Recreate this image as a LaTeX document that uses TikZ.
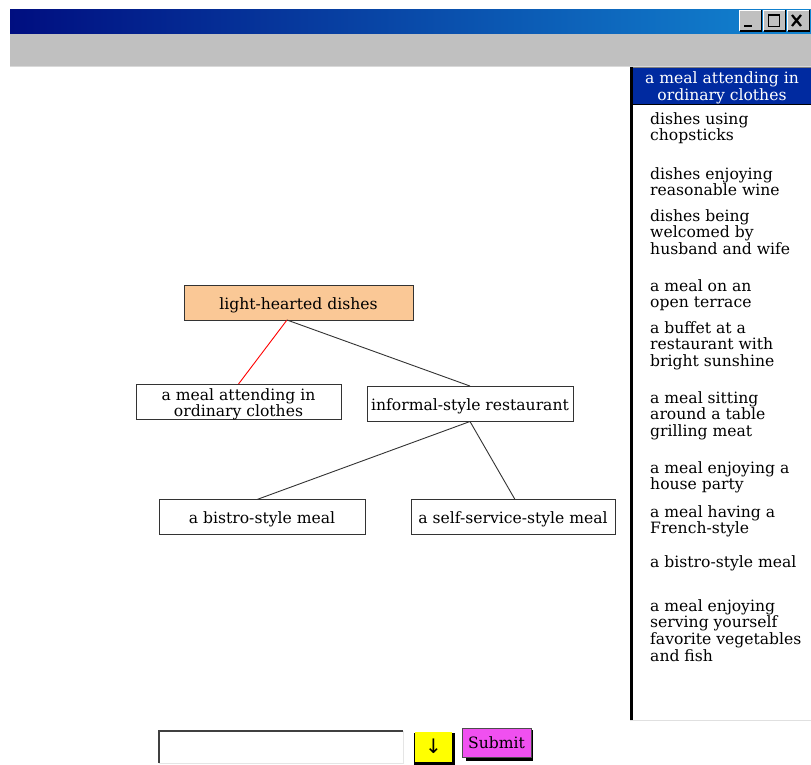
\documentclass[tikz,border=0pt]{standalone}
\usepackage{fontspec}
\setmainfont{DejaVu Serif}
\newfontfamily\arrowfont{DejaVu Sans}
\definecolor{peach}{RGB}{250,200,150}
\definecolor{titleL}{RGB}{0,14,128}
\definecolor{titleR}{RGB}{18,134,210}
\definecolor{winGray}{RGB}{192,192,192}
\definecolor{selBlue}{RGB}{0,42,160}
\definecolor{magentaBtn}{RGB}{240,80,240}
\definecolor{yellowBtn}{RGB}{255,255,0}
\tikzset{
  treebox/.style={draw=black!80, line width=0.9pt, minimum height=35pt, inner sep=1pt},
  treetext/.style={align=center, inner sep=0pt, yshift=-2.5pt, font=\fontsize{15.6}{16.5}\selectfont},
  listitem/.style={anchor=north west, align=left, inner sep=0pt, font=\fontsize{15.6}{16.8}\selectfont},
  link/.style={draw=black!80, line width=0.9pt},
  redlink/.style={draw=red, line width=0.9pt},
}
\begin{document}
\begin{tikzpicture}[x=1pt,y=-1pt]
\useasboundingbox (0,0) rectangle (811,765);
\fill[white] (0,0) rectangle (811,765);
% title bar
\shade[left color=titleL, right color=titleR] (10,10) rectangle (811,34);
\fill[winGray] (10,34) rectangle (811,66);
\draw[black!15, line width=1pt] (10,66.5) -- (811,66.5);
% window buttons
\foreach \bx in {739,763,787}{
  \fill[winGray] (\bx,10) rectangle (\bx+23,31);
  \draw[white, line width=1pt] (\bx+0.5,31) -- (\bx+0.5,10.5) -- (\bx+23,10.5);
  \draw[black, line width=1.2pt] (\bx+0.6,31) -- (\bx+22.4,31) -- (\bx+22.4,10);
}
\fill[black] (744,25) rectangle (752,27.5);
\draw[black, line width=1.2pt] (768.5,14.5) rectangle (779.5,26.5);
\fill[black] (768.5,14) rectangle (779.5,16.5);
\draw[black, line width=2.2pt] (792,15) -- (801,26) (801,15) -- (792,26);
% list box
\fill[selBlue] (632,68) rectangle (811,104);
\draw[black, line width=1pt] (632,104.5) -- (811,104.5);
\draw[black!50, line width=1pt] (630,67.5) -- (811,67.5);
\draw[black, line width=2.2pt] (631.5,67) -- (631.5,720);
\draw[black!12, line width=1pt] (630,720.5) -- (811,720.5);
\node[text=white, align=center, inner sep=0pt, font=\fontsize{15.6}{17}\selectfont] (sel) at (722,87.5) {a meal attending in\\ordinary clothes};
\node[listitem] (l1) at (650,112) {dishes using\\chopsticks};
\node[listitem] (l2) at (650,167) {dishes enjoying\\reasonable wine};
\node[listitem] (l3) at (650,209) {dishes being\\welcomed by\\husband and wife};
\node[listitem] (l4) at (650,279) {a meal on an\\open terrace};
\node[listitem] (l5) at (650,321) {a buffet at a\\restaurant with\\bright sunshine};
\node[listitem] (l6) at (650,391) {a meal sitting\\around a table\\grilling meat};
\node[listitem] (l7) at (650,461) {a meal enjoying a\\house party};
\node[listitem] (l8) at (650,505) {a meal having a\\French-style};
\node[listitem] (l9) at (650,555) {a bistro-style meal};
\node[listitem] (l10) at (650,599) {a meal enjoying\\serving yourself\\favorite vegetables\\and fish};
% tree
\node[treebox, fill=peach, minimum width=229pt, label={[treetext]center:light-hearted dishes}] (root) at (298.5,302.5) {};
\node[treebox, fill=white, minimum width=205pt, label={[treetext]center:a meal attending in\\ordinary clothes}] (ordin) at (238.5,402) {};
\node[treebox, fill=white, minimum width=206pt, label={[treetext]center:informal-style restaurant}] (infor) at (470,404) {};
\node[treebox, fill=white, minimum width=206pt, label={[treetext]center:a bistro-style meal}] (bistro) at (262,517) {};
\node[treebox, fill=white, minimum width=204pt, label={[treetext]center:a self-service-style meal}] (selfs) at (513,517) {};
\coordinate (rootb) at (287,320);
\coordinate (infb) at (470,421.5);
\draw[redlink] (rootb) -- (ordin.north);
\draw[link] (rootb) -- (infor.north);
\draw[link] (infb) -- (257,499.5) coordinate (bistt);
\draw[link] (infb) -- (515,499.5) coordinate (selft);
% bottom controls
\node[draw=none, fill=white, minimum width=244pt, minimum height=32pt, inner sep=0pt] (field) at (281,747) {};
\draw[black!75, line width=2pt] (field.south west) -- (field.north west) -- (field.north east);
\draw[black!10, line width=1pt] (field.north east) -- (field.south east) -- (field.south west);
\fill[black] (414,733) rectangle (455,765);
\node[fill=yellowBtn, minimum width=37pt, minimum height=30pt, inner sep=0pt, font=\arrowfont\fontsize{20}{20}\selectfont] (down) at (433.5,746.5) {↓};
\fill[black] (466,730) rectangle (533,761);
\node[fill=magentaBtn, draw=black!70, line width=0.6pt, minimum width=69pt, minimum height=29pt, inner sep=0pt, font=\fontsize{15.6}{16}\selectfont] (submit) at (496.5,742.5) {Submit};
\end{tikzpicture}
\end{document}
